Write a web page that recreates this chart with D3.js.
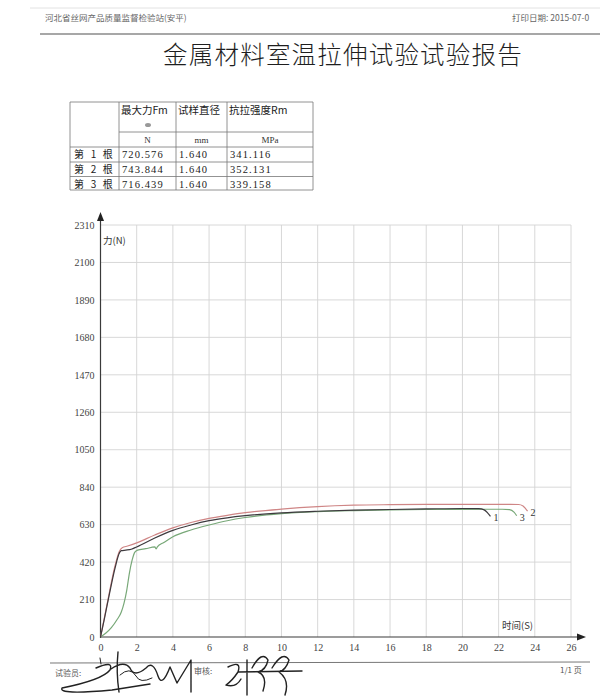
<!DOCTYPE html>
<html><head><meta charset="utf-8">
<script src="https://cdn.jsdelivr.net/npm/d3@7"></script>
<style>
html,body{margin:0;padding:0;background:#fff;}
svg{display:block;}
text{white-space:pre;}
</style></head>
<body>
<script>
// ---------- data ----------
const headerLeft = "河北省丝网产品质量监督检验站(安平)";
const headerRight = "打印日期: 2015-07-0";
const title = "金属材料室温拉伸试验试验报告";
const tableHeaders = ["最大力Fm", "试样直径", "抗拉强度Rm"];
const tableUnits = ["N", "mm", "MPa"];
const sampleNames = ["第 1 根", "第 2 根", "第 3 根"];
const maxForce = ["720.576", "743.844", "716.439"];
const diameter = ["1.640", "1.640", "1.640"];
const strength = ["341.116", "352.131", "339.158"];

const yTicks = [0, 210, 420, 630, 840, 1050, 1260, 1470, 1680, 1890, 2100, 2310];
const xTicks = [0, 2, 4, 6, 8, 10, 12, 14, 16, 18, 20, 22, 24, 26];
const yLabel = "力(N)";
const xLabel = "时间(S)";
const curveLabels = ["1", "2", "3"];

// [time s, force N]
const curve1 = [[0,0],[0.2,95],[0.5,245],[0.8,385],[1.05,472],[1.15,484],[1.4,487],[1.7,492],[2,505],[3,555],[4,598],[5,628],[6,652],[7,668],[8,680],[10,696],[12,705],[14,711],[16,715],[18,718],[20,720.5],[20.9,720],[21.2,713],[21.4,695],[21.55,676]];
const curve2 = [[0,0],[0.2,100],[0.5,255],[0.8,398],[1.05,482],[1.2,500],[1.5,510],[2,528],[3,572],[4,612],[5,642],[6,665],[7,682],[8,697],[10,717],[12,731],[14,739],[16,742],[18,743.5],[20,743.8],[22,743.8],[23.1,743],[23.35,735],[23.5,718],[23.6,706]];
const curve3 = [[0,0],[0.3,22],[0.6,52],[0.9,95],[1.15,140],[1.3,190],[1.45,262],[1.6,360],[1.75,432],[1.9,476],[2.05,487],[2.5,495],[3.0,505],[3.08,494],[3.14,505],[3.5,530],[4,562],[5,600],[6,628],[7,652],[8,670],[10,692],[12,703],[14,709],[16,713],[18,715],[20,716],[22.2,716.4],[22.6,714],[22.85,700],[23.0,680]];

const curves = [
  {name: curveLabels[0], data: curve1, color: "#3d3a3e"},
  {name: curveLabels[1], data: curve2, color: "#cf8686"},
  {name: curveLabels[2], data: curve3, color: "#78a878"}
];

// ---------- page ----------
const W = 600, H = 700;
const svg = d3.select("body").append("svg").attr("width", W).attr("height", H);
const cjk = "'Noto Sans CJK SC', sans-serif";
const serif = "'Liberation Serif', 'DejaVu Serif', serif";

svg.append("line").attr("x1", 30).attr("x2", 600).attr("y1", 8).attr("y2", 8)
  .attr("stroke", "#e2e2e2").attr("stroke-width", 1);

svg.append("text").attr("x", 45).attr("y", 21).text(headerLeft)
  .attr("font-family", cjk).attr("font-size", 8.5).attr("fill", "#666");
svg.append("text").attr("x", 512).attr("y", 21).text(headerRight)
  .attr("font-family", cjk).attr("font-size", 8.5).attr("fill", "#666");
svg.append("line").attr("x1", 40).attr("x2", 600).attr("y1", 34).attr("y2", 34)
  .attr("stroke", "#8a8a8a").attr("stroke-width", 1.6);

svg.append("text").attr("x", 343).attr("y", 64).attr("text-anchor", "middle").text(title)
  .attr("font-family", cjk).attr("font-size", 24.5).attr("font-weight", 300)
  .attr("letter-spacing", 1.2).attr("fill", "#1e1e1e");

// ---------- table ----------
const colX = [70, 119, 176, 227, 313];
const rowY = [102, 132, 147, 162, 176.5, 190];
const tg = svg.append("g").attr("stroke", "#777").attr("stroke-width", 0.8);
tg.append("line").attr("x1", colX[0]).attr("x2", colX[4]).attr("y1", rowY[0]).attr("y2", rowY[0]);
tg.append("line").attr("x1", colX[1]).attr("x2", colX[4]).attr("y1", rowY[1]).attr("y2", rowY[1]);
for (let i = 2; i < rowY.length; i++)
  tg.append("line").attr("x1", colX[0]).attr("x2", colX[4]).attr("y1", rowY[i]).attr("y2", rowY[i]);
colX.forEach(x => tg.append("line").attr("x1", x).attr("x2", x).attr("y1", rowY[0]).attr("y2", rowY[5]));

const tt = svg.append("g").attr("fill", "#222");
tableHeaders.forEach((h, i) => {
  tt.append("text").attr("x", colX[i+1] + 2).attr("y", rowY[0] + 12).text(h)
    .attr("font-family", cjk).attr("font-size", 10.5);
});
tt.append("ellipse").attr("cx", 148).attr("cy", 125).attr("rx", 3).attr("ry", 2).attr("fill", "#999");
tableUnits.forEach((u, i) => {
  tt.append("text").attr("x", (colX[i+1] + colX[i+2]) / 2).attr("y", rowY[1] + 10.5)
    .attr("text-anchor", "middle").text(u).attr("font-family", serif).attr("font-size", 9).attr("fill", "#333");
});
sampleNames.forEach((s, r) => {
  const y = rowY[r+2] + 11;
  tt.append("text").attr("x", colX[0] + 4).attr("y", y).text(s)
    .attr("font-family", cjk).attr("font-size", 10).attr("letter-spacing", 2.2);
  [maxForce[r], diameter[r], strength[r]].forEach((v, c) => {
    tt.append("text").attr("x", colX[c+1] + 3).attr("y", y).text(v)
      .attr("font-family", serif).attr("font-size", 10.5).attr("letter-spacing", 1.1);
  });
});

// ---------- chart ----------
const x = d3.scaleLinear().domain([0, 26]).range([100.5, 571]);
const y = d3.scaleLinear().domain([0, 2310]).range([637, 225]);

const grid = svg.append("g").attr("stroke", "#d4d4d4").attr("stroke-width", 0.9);
yTicks.filter(v => v > 0).forEach(v =>
  grid.append("line").attr("x1", x(0)).attr("x2", x(26)).attr("y1", y(v)).attr("y2", y(v)));
xTicks.filter(v => v > 0).forEach(v =>
  grid.append("line").attr("x1", x(v)).attr("x2", x(v)).attr("y1", y(2310)).attr("y2", y(0)));

const yAxis = svg.append("g").attr("transform", `translate(${x(0)},0)`)
  .call(d3.axisLeft(y).tickValues(yTicks).tickSize(0).tickPadding(6).tickFormat(d3.format("d")));
const xAxis = svg.append("g").attr("transform", `translate(0,${y(0)})`)
  .call(d3.axisBottom(x).tickValues(xTicks).tickSize(0).tickPadding(7).tickFormat(d3.format("d")));
[yAxis, xAxis].forEach(a => {
  a.select(".domain").remove();
  a.selectAll("text").attr("font-family", serif).attr("font-size", 10).attr("fill", "#444");
});

const ax = svg.append("g").attr("stroke", "#3a3a3a").attr("stroke-width", 1.2);
ax.append("line").attr("x1", x(0)).attr("x2", x(0)).attr("y1", y(0) + 1).attr("y2", 218);
ax.append("line").attr("x1", x(0)).attr("x2", 580).attr("y1", y(0)).attr("y2", y(0));
svg.append("path").attr("d", `M${x(0)},212 L${x(0)-3.5},221 L${x(0)+3.5},221 Z`).attr("fill", "#222");
svg.append("path").attr("d", `M586,${y(0)} L577,${y(0)-3.5} L577,${y(0)+3.5} Z`).attr("fill", "#222");

svg.append("text").attr("x", 103).attr("y", 244).text(yLabel)
  .attr("font-family", cjk).attr("font-size", 9.5).attr("fill", "#333");
svg.append("text").attr("x", 502).attr("y", 629).text(xLabel)
  .attr("font-family", cjk).attr("font-size", 9.5).attr("fill", "#333");

const line = d3.line().x(d => x(d[0])).y(d => y(d[1])).curve(d3.curveMonotoneX);
const cg = svg.append("g").attr("fill", "none");
[curves[2], curves[1], curves[0]].forEach(c => {
  cg.append("path").attr("d", line(c.data)).attr("stroke", c.color).attr("stroke-width", 1.2);
});
curves.forEach(c => {
  const last = c.data[c.data.length - 1];
  svg.append("text").attr("x", x(last[0]) + 3).attr("y", y(last[1]) + 5).text(c.name)
    .attr("font-family", serif).attr("font-size", 10).attr("fill", "#333");
});

// ---------- footer ----------
svg.append("line").attr("x1", 50).attr("x2", 590).attr("y1", 663).attr("y2", 662)
  .attr("stroke", "#777").attr("stroke-width", 1);
svg.append("text").attr("x", 55).attr("y", 676).text("试验员:")
  .attr("font-family", cjk).attr("font-size", 8).attr("fill", "#555");
svg.append("text").attr("x", 194).attr("y", 674).text("审核:")
  .attr("font-family", cjk).attr("font-size", 8).attr("fill", "#555");
svg.append("text").attr("x", 560).attr("y", 673).text("1/1 页")
  .attr("font-family", cjk).attr("font-size", 8).attr("fill", "#555");

const sig = svg.append("g").attr("fill", "none").attr("stroke", "#222").attr("stroke-width", 1.4)
  .attr("stroke-linecap", "round").attr("stroke-linejoin", "round");
sig.append("path").attr("d", "M96,668 Q114,660 110,670 Q102,680 62,688 Q58,695 112,690 L150,684");
sig.append("path").attr("d", "M118,652 Q116,672 119,692 M111,669 Q124,660 130,668 Q134,678 146,668 Q153,660 158,676 Q162,688 170,667 L177,683 L191,660 L191,692");
sig.append("path").attr("d", "M120,675 Q130,666 136,676 Q140,684 152,678").attr("stroke-width", 1);
sig.append("path").attr("d", "M100,658 L101,664").attr("stroke-width", 1);
sig.append("path").attr("d", "M228,667 Q242,660 238,672 Q232,681 226,685 Q236,688 241,679 M247,660 L247,695 M252,668 Q262,650 268,660 Q266,670 258,672 Q268,676 263,691 M272,668 Q283,650 289,660 Q286,670 279,672 Q290,680 285,695 M238,672 L302,671");
</script>
</body></html>
